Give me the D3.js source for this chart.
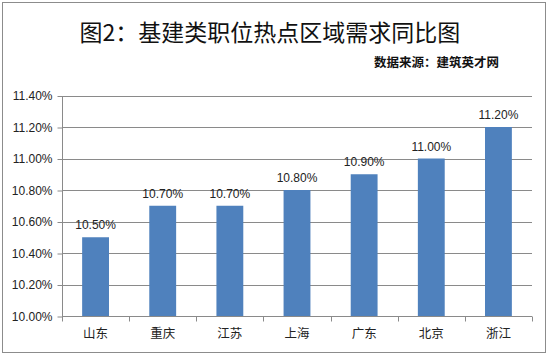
<!DOCTYPE html>
<html><head><meta charset="utf-8">
<script src="https://cdn.jsdelivr.net/npm/d3@7"></script>
<style>body{margin:0;background:#fff;}svg{display:block;}</style>
</head><body>
<svg id="c" width="550" height="357"></svg>
<script>
const categories = ["山东","重庆","江苏","上海","广东","北京","浙江"];
const values = [10.5, 10.7, 10.7, 10.8, 10.9, 11.0, 11.2];
const yTicks = [10.0, 10.2, 10.4, 10.6, 10.8, 11.0, 11.2, 11.4];
const title = "图2：基建类职位热点区域需求同比图";
const source = "数据来源：建筑英才网";

const svg = d3.select("#c");
const cjk = "'Noto Sans CJK SC', 'Noto Sans', sans-serif";
const lat = "'Liberation Sans', Arial, sans-serif";

svg.append("rect").attr("x",2.5).attr("y",2.5).attr("width",543).attr("height",350)
  .attr("fill","#fff").attr("stroke","#8c8c8c").attr("stroke-width",1);

svg.append("text").attr("x",270).attr("y",41).attr("text-anchor","middle")
  .attr("font-family",cjk).attr("font-size",23).attr("font-weight",400).attr("fill","#111")
  .text(title);
svg.append("text").attr("x",499).attr("y",67).attr("text-anchor","end")
  .attr("font-family",cjk).attr("font-size",12.5).attr("font-weight",700).attr("fill","#111")
  .text(source);

const x = d3.scaleBand().domain(categories).range([62,532]).paddingInner(0.6).paddingOuter(0.3);
const xb = d3.scaleBand().domain(categories).range([62,532]);
const y = d3.scaleLinear().domain([10.0,11.4]).range([316,95.5]);

// gridlines
svg.append("g").selectAll("line").data(yTicks.slice(1)).join("line")
  .attr("x1",62).attr("x2",532).attr("y1",d=>Math.round(y(d))+0.5).attr("y2",d=>Math.round(y(d))+0.5)
  .attr("stroke","#8a8a8a").attr("stroke-width",1);

// y axis
const yAxis = d3.axisLeft(y).tickValues(yTicks).tickSize(5).tickPadding(5)
  .tickFormat(d=>d.toFixed(2)+"%");
const gy = svg.append("g").attr("transform","translate(62.5,0.5)").call(yAxis);
gy.selectAll("path,line").attr("stroke","#8a8a8a");
gy.select(".domain").attr("d","M0,"+Math.round(y(11.4))+"V"+Math.round(y(10)));
gy.selectAll("text").attr("font-family",lat).attr("font-size",12).attr("fill","#222");

// bars
svg.append("g").selectAll("rect").data(values).join("rect")
  .attr("x",(d,i)=>x(categories[i])).attr("width",x.bandwidth())
  .attr("y",d=>y(d)).attr("height",d=>y(10)-y(d)).attr("fill","#4f81bd");

// x axis
const gx = svg.append("g").attr("transform","translate(0,"+(Math.round(y(10))+0.5)+")");
gx.append("line").attr("x1",62).attr("x2",532).attr("stroke","#8a8a8a");
const bounds = categories.map(c=>xb(c)).concat([532]);
gx.selectAll("line.t").data(bounds).join("line").attr("class","t")
  .attr("x1",d=>Math.round(d)+0.5).attr("x2",d=>Math.round(d)+0.5).attr("y1",0).attr("y2",5)
  .attr("stroke","#8a8a8a");
gx.selectAll("text").data(categories).join("text")
  .attr("x",d=>xb(d)+xb.bandwidth()/2).attr("y",21).attr("text-anchor","middle")
  .attr("font-family",cjk).attr("font-size",12.5).attr("fill","#222").text(d=>d);

// value labels
svg.append("g").selectAll("text").data(values).join("text")
  .attr("x",(d,i)=>x(categories[i])+x.bandwidth()/2).attr("y",d=>y(d)-8)
  .attr("text-anchor","middle").attr("font-family",lat).attr("font-size",12).attr("fill","#222")
  .text(d=>d.toFixed(2)+"%");
</script>
</body></html>
